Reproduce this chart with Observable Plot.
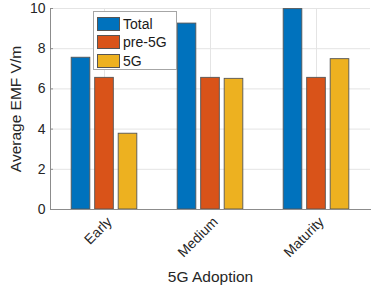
<!DOCTYPE html>
<html>
<head>
<meta charset="utf-8">
<script src="https://cdn.jsdelivr.net/npm/d3@7"></script>
<script src="https://cdn.jsdelivr.net/npm/@observablehq/plot@0.6"></script>
<style>
  html, body { margin: 0; padding: 0; background: #fff; }
  #wrap { position: relative; width: 382px; height: 286px; font-family: "Liberation Sans", Arial, sans-serif; color: #262626; }
  #wrap svg { position: absolute; left: 0; top: 0; }
  #wrap svg [aria-label="x-axis label"] text, #wrap svg [aria-label="y-axis label"] text { font-size: 15.5px; }
  .legend { position: absolute; left: 93px; top: 11px; width: 84px; height: 59px; border: 1px solid #a6a6a6; background: #fff; box-sizing: border-box; }
  .legend .row { position: absolute; left: 3px; height: 14px; display: flex; align-items: center; font-size: 14px; line-height: 14px; color: #1a1a1a; }
  .legend .sw { width: 23px; height: 14px; box-sizing: border-box; border: 1px solid #555; margin-right: 3px; }
</style>
</head>
<body>
<div id="wrap"></div>
<script>
const categories = ["Early", "Medium", "Maturity"];
const series = ["Total", "pre-5G", "5G"];
const total = [7.55, 9.25, 9.97];
const pre5G = [6.55, 6.55, 6.55];
const fiveG = [3.77, 6.5, 7.48];
const yTicks = [0, 2, 4, 6, 8, 10];
const colors = ["#0072BD", "#D95319", "#EDB120"];

const valuesBySeries = [total, pre5G, fiveG];
const rows = series.map((s, si) => categories.map((c, ci) => ({category: c, series: s, value: valuesBySeries[si][ci]})));

const barW = 19.3, step = 23.5, band = (382 - 50 - 12) / 3;
const inset = (band - barW) / 2;

const plot = Plot.plot({
  width: 382,
  height: 286,
  marginLeft: 50,
  marginRight: 12,
  marginTop: 8,
  marginBottom: 77,
  style: {fontFamily: "Liberation Sans, Arial, sans-serif", fontSize: "14px", color: "#262626", background: "transparent"},
  x: {domain: categories, padding: 0},
  y: {domain: [0, 10]},
  marks: [
    Plot.gridY(yTicks, {stroke: "#e4e4e4", strokeOpacity: 1}),
    Plot.gridX({stroke: "#e4e4e4", strokeOpacity: 1}),
    ...rows.map((data, si) => Plot.barY(data, {
      x: "category", y: "value", fill: colors[si],
      stroke: "#555555", strokeWidth: 0.9,
      insetLeft: inset, insetRight: inset, dx: (si - 1) * step
    })),
    Plot.frame({anchor: "left", stroke: "#8c8c8c"}),
    Plot.frame({anchor: "bottom", stroke: "#8c8c8c"}),
    Plot.axisY(yTicks, {tickSize: -3, tickPadding: 8, stroke: "#8c8c8c", fontSize: 14,
      label: "Average EMF V/m", labelAnchor: "center", labelArrow: "none", labelOffset: 41}),
    Plot.axisX({tickSize: 0, tickPadding: 10, tickRotate: -45, dx: 5, fontSize: 14,
      label: "5G Adoption", labelAnchor: "center", labelArrow: "none", labelOffset: 72})
  ]
});

const wrap = document.getElementById("wrap");
wrap.appendChild(plot);

const legend = document.createElement("div");
legend.className = "legend";
const rowTops = [5, 23, 42];
series.forEach((s, i) => {
  const r = document.createElement("div");
  r.className = "row";
  r.style.top = rowTops[i] + "px";
  const sw = document.createElement("div");
  sw.className = "sw";
  sw.style.background = colors[i];
  const t = document.createElement("span");
  t.textContent = s;
  r.appendChild(sw);
  r.appendChild(t);
  legend.appendChild(r);
});
wrap.appendChild(legend);
</script>
</body>
</html>
